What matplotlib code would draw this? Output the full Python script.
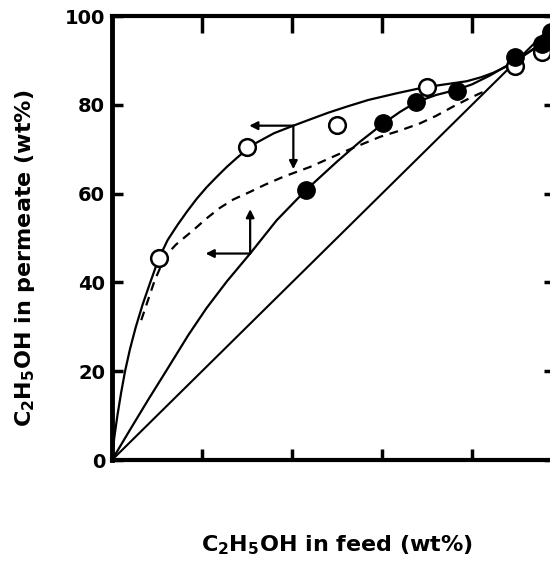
import numpy as np
import matplotlib as mpl
mpl.use('Agg')
import matplotlib.pyplot as plt

plt.rcParams['font.family'] = ['DejaVu Sans']
plt.rcParams['mathtext.default'] = 'regular'

# open circles (upper solid curve)
open_x = [10.4, 29.9, 49.9, 69.9, 89.6, 95.5]
open_y = [45.4, 70.4, 75.5, 83.9, 88.7, 92.0]

# filled circles (lower solid curve)
fill_x = [43.1, 60.3, 67.6, 76.6, 89.6, 95.5, 97.5]
fill_y = [60.8, 75.8, 80.7, 83.2, 90.8, 93.8, 96.5]

# curves
upper_x = [0, 0.5, 1.2, 2.0, 2.9, 4.0, 5.3, 6.8, 8.5, 10.4, 12.4, 14.6, 16.7,
           18.8, 21.0, 23.3, 25.5, 27.7, 29.9, 32.0, 36.0, 40.3, 44.0, 48.0, 52.2,
           57.0, 63.3, 69.2, 74.0, 78.8, 82.0, 84.7, 88.4, 92.0, 95.5, 100]
upper_y = [0, 5.0, 10.0, 15.0, 20.0, 25.0, 30.0, 35.0, 40.0, 45.4, 49.6, 53.0, 56.0,
           58.8, 61.4, 63.8, 66.0, 68.0, 69.9, 71.4, 73.6, 75.3, 76.7, 78.2, 79.6,
           81.1, 82.6, 83.9, 84.6, 85.3, 86.2, 87.2, 89.0, 91.4, 93.8, 100]

lower_x = [0, 4.0, 8.0, 12.0, 17.0, 21.0, 25.5, 30.7, 36.6, 43.1, 50.0, 55.0, 60.3,
           64.0, 67.6, 72.0, 76.6, 80.0, 84.0, 88.4, 92.0, 95.5, 100]
lower_y = [0, 6.8, 13.5, 20.0, 28.2, 34.2, 40.2, 46.5, 54.0, 60.8, 67.2, 71.6, 75.8,
           78.4, 80.6, 82.2, 83.4, 84.6, 86.6, 89.2, 91.5, 93.8, 100]

dash_x = [6.5, 8.0, 9.5, 10.8, 12.1, 14.2, 16.2, 18.1, 21.0, 24.0, 27.0, 30.7, 34.0,
          38.1, 44.0, 48.0, 52.2, 56.0, 59.6, 64.0, 68.4, 72.0, 75.8, 79.5, 83.3]
dash_y = [31.5, 36.0, 40.5, 43.5, 46.2, 48.5, 50.2, 51.8, 54.4, 56.8, 58.7, 60.4, 62.0,
          63.8, 66.0, 67.8, 69.7, 71.3, 72.8, 74.2, 75.8, 77.5, 79.6, 81.5, 83.3]

diag = [0, 100]

# arrows: (start, end)
arrows = [((40.3, 75.3), (30.5, 75.3)),
          ((40.3, 75.3), (40.3, 65.5)),
          ((30.7, 46.5), (20.8, 46.5)),
          ((30.7, 46.5), (30.7, 56.5))]

fig = plt.figure(figsize=(5.5, 5.62), dpi=100)
ax = fig.add_axes([112/550, 1 - 460/562, 450/550, 444/562])

ax.plot(diag, diag, color='black', lw=1.5)
ax.plot(upper_x, upper_y, color='black', lw=1.6)
ax.plot(lower_x, lower_y, color='black', lw=1.6)
ax.plot(dash_x, dash_y, color='black', lw=1.6, ls=(0, (4, 3)))
ax.plot(open_x, open_y, 'o', ms=12, mfc='white', mec='black', mew=1.8, zorder=5)
ax.plot(fill_x, fill_y, 'o', ms=12.5, mfc='black', mec='black', zorder=6)

for (x0, y0), (x1, y1) in arrows:
    ax.annotate('', xy=(x1, y1), xytext=(x0, y0),
                arrowprops=dict(arrowstyle='-|>', color='black', lw=1.6,
                                mutation_scale=12, shrinkA=0, shrinkB=0))

ax.set_xlim(0, 100)
ax.set_ylim(0, 100)
ax.set_xticks([20, 40, 60, 80])
ax.set_xticklabels([])
ax.set_yticks([0, 20, 40, 60, 80, 100])
ax.set_yticklabels(['0', '20', '40', '60', '80', '100'], fontsize=14, fontweight='bold')
ax.tick_params(direction='in', length=8, width=2.5, pad=5)
ax.tick_params(axis='x', top=True)
ax.tick_params(axis='y', right=True)
for t in ax.xaxis.get_major_ticks():
    t.tick2line.set_markersize(12)
for t in ax.yaxis.get_major_ticks():
    t.tick2line.set_markersize(13)
for s in ax.spines.values():
    s.set_linewidth(3)
ax.spines['left'].set_linewidth(3.5)

fig.text(25/550, 1 - 258/562, 'C$_2$H$_5$OH in permeate (wt%)', fontsize=16,
         fontweight='bold', rotation=90, ha='center', va='center')
fig.text(337/550, 1 - 545/562, 'C$_2$H$_5$OH in feed (wt%)', fontsize=16,
         fontweight='bold', ha='center', va='center')

fig.savefig('out.png', dpi=100)
